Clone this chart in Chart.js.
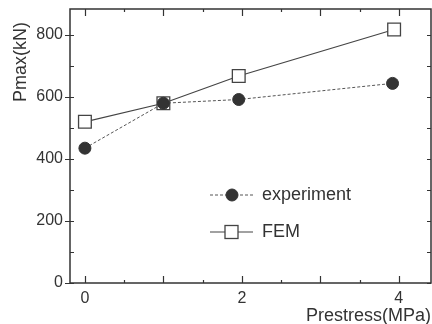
<!DOCTYPE html>
<html>
<head>
<meta charset="UTF-8">
<title>Pmax vs Prestress</title>
<style>
  html, body { margin: 0; padding: 0; background: #fff; }
  #wrap { width: 432px; height: 324px; }
</style>
</head>
<body>
<div id="wrap"><canvas id="chart"></canvas></div>
<script src="https://cdn.jsdelivr.net/npm/chart.js"></script>
<script>
// data
const expX = [0, 1, 1.96, 3.92];
const expY = [435, 580, 592, 644];
const femX = [0, 1, 1.96, 3.94];
const femY = [520, 580, 668, 818];
const xTicks = [0, 2, 4];
const yTicks = [0, 200, 400, 600, 800];
const seriesNames = ['experiment', 'FEM'];
const xTitle = 'Prestress(MPa)';
const yTitle = 'Pmax(kN)';

const ink = '#333';
const fontFam = '"Liberation Sans", Arial, sans-serif';

const toPts = (xs, ys) => xs.map((x, i) => ({ x: x, y: ys[i] }));

// box round the plot + inward tick marks (like the original)
const frame = {
    id: 'frame',
    afterDraw(chart) {
        const { ctx, chartArea: a, scales } = chart;
        ctx.save();
        ctx.strokeStyle = ink;
        ctx.lineWidth = 1.5;
        ctx.strokeRect(a.left, a.top, a.right - a.left, a.bottom - a.top);
        ctx.lineWidth = 1.2;
        ctx.beginPath();
        for (let v = 0; v <= 4; v += 0.5) {
            const px = Math.round(scales.x.getPixelForValue(v)) + 0.5;
            const len = Number.isInteger(v) ? 7 : 3;
            ctx.moveTo(px, a.bottom); ctx.lineTo(px, a.bottom - len);
            ctx.moveTo(px, a.top); ctx.lineTo(px, a.top + len);
        }
        for (let v = 0; v <= 800; v += 100) {
            const py = Math.round(scales.y.getPixelForValue(v)) + 0.5;
            const major = v % 200 === 0;
            ctx.moveTo(a.left - (major ? 5 : 0), py); ctx.lineTo(a.left + 4, py);
            ctx.moveTo(a.right, py); ctx.lineTo(a.right - 4, py);
        }
        ctx.stroke();

        // axis titles
        ctx.fillStyle = ink;
        ctx.font = '18px ' + fontFam;
        ctx.textAlign = 'right';
        ctx.textBaseline = 'alphabetic';
        ctx.fillText(xTitle, a.right, 321);
        ctx.save();
        ctx.translate(26, 62);
        ctx.rotate(-Math.PI / 2);
        ctx.textAlign = 'center';
        ctx.fillText(yTitle, 0, 0);
        ctx.restore();
        ctx.restore();
    }
};

// legend inside the plot
const innerLegend = {
    id: 'innerLegend',
    afterDatasetsDraw(chart) {
        const { ctx } = chart;
        const rows = [195, 232];
        ctx.save();
        chart.data.datasets.forEach((ds, i) => {
            const y = rows[i];
            ctx.strokeStyle = ds.borderColor;
            ctx.lineWidth = ds.borderWidth;
            ctx.setLineDash(ds.borderDash || []);
            ctx.beginPath();
            ctx.moveTo(210, y); ctx.lineTo(253, y);
            ctx.stroke();
            ctx.setLineDash([]);
            ctx.lineWidth = ds.pointBorderWidth;
            ctx.fillStyle = ds.pointBackgroundColor;
            ctx.strokeStyle = ds.pointBorderColor;
            if (ds.pointStyle === 'circle') {
                ctx.beginPath();
                ctx.arc(232, y, 6, 0, Math.PI * 2);
                ctx.fill(); ctx.stroke();
            } else {
                ctx.fillRect(225, y - 6.5, 13, 13);
                ctx.strokeRect(225, y - 6.5, 13, 13);
            }
            ctx.fillStyle = ink;
            ctx.font = '18px ' + fontFam;
            ctx.textAlign = 'left';
            ctx.textBaseline = 'middle';
            ctx.fillText(ds.label, 262, y);
        });
        ctx.restore();
    }
};

new Chart(document.getElementById('chart').getContext('2d'), {
    type: 'scatter',
    data: {
        datasets: [
            {
                label: seriesNames[0],
                data: toPts(expX, expY),
                showLine: true,
                borderColor: '#555',
                borderWidth: 1,
                borderDash: [3, 2],
                pointStyle: 'circle',
                pointRadius: 6,
                pointBackgroundColor: '#333',
                pointBorderColor: '#333',
                pointBorderWidth: 1,
            },
            {
                label: seriesNames[1],
                data: toPts(femX, femY),
                showLine: true,
                borderColor: '#444',
                borderWidth: 1.2,
                pointStyle: 'rect',
                pointRadius: 9,
                pointBackgroundColor: '#fff',
                pointBorderColor: '#444',
                pointBorderWidth: 1.3,
            },
        ],
    },
    options: {
        responsive: true,
        maintainAspectRatio: false,
        animation: false,
        layout: { autoPadding: false, padding: { top: 9, right: 1, left: 0, bottom: 0 } },
        plugins: {
            legend: { display: false },
            tooltip: { enabled: false },
        },
        scales: {
            x: {
                type: 'linear',
                min: -0.19,
                max: 4.41,
                afterBuildTicks: (s) => { s.ticks = xTicks.map(v => ({ value: v })); },
                afterFit: (s) => { s.height = 41; s.paddingLeft = 0; s.paddingRight = 0; },
                grid: { display: false, drawTicks: false },
                border: { display: false },
                ticks: { color: ink, padding: 6, font: { size: 16, family: fontFam }, maxRotation: 0 },
            },
            y: {
                min: 0,
                max: 884,
                afterBuildTicks: (s) => { s.ticks = yTicks.map(v => ({ value: v })); },
                afterFit: (s) => { s.width = 70; s.paddingTop = 0; s.paddingBottom = 0; },
                grid: { display: false, drawTicks: false },
                border: { display: false },
                ticks: { color: ink, padding: 7, font: { size: 16, family: fontFam } },
            },
        },
    },
    plugins: [frame, innerLegend],
});
</script>
</body>
</html>
